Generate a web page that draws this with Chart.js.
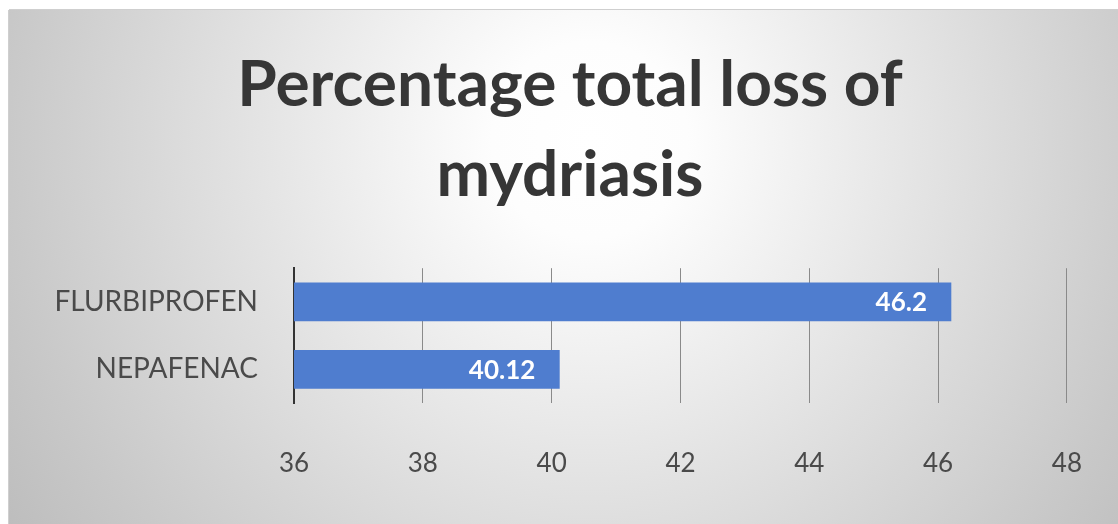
<!DOCTYPE html>
<html>
<head>
<meta charset="utf-8">
<script src="https://cdn.jsdelivr.net/npm/chart.js@4.4.1/dist/chart.umd.min.js"></script>
<style>
  html, body { margin: 0; padding: 0; background: #fff; }
  #wrap { width: 1118px; height: 524px; position: relative; }
</style>
</head>
<body>
<div id="wrap"><canvas id="myChart" width="1118" height="524"></canvas></div>
<script>
// data
var drugs = ['FLURBIPROFEN', 'NEPAFENAC'];
var lossPct = [46.2, 40.12];
var valueLabels = ['46.2', '40.12'];
var titleLines = ['Percentage total loss of', 'mydriasis'];
var xMin = 36, xMax = 48, xStep = 2;

// grey panel with a soft radial highlight behind the title
var panelBg = {
  id: 'panelBg',
  beforeDraw: function(chart) {
    var c = chart.ctx;
    c.save();
    c.fillStyle = '#ffffff';
    c.fillRect(0, 0, chart.width, chart.height);
    var g = c.createRadialGradient(590, 140, 0, 590, 140, 700);
    g.addColorStop(0, '#ffffff');
    g.addColorStop(0.14, '#fdfdfd');
    g.addColorStop(0.83, '#c9c9c9');
    g.addColorStop(1, '#bdbdbd');
    c.fillStyle = g;
    c.fillRect(9, 10, chart.width - 9, chart.height - 10);
    c.fillStyle = '#cfcfcf';
    c.fillRect(9, 9, chart.width - 9, 1);
    c.fillRect(8, 10, 1, chart.height - 10);
    c.restore();
  }
};

// white value labels just inside the end of each bar
var barLabels = {
  id: 'barLabels',
  afterDatasetsDraw: function(chart) {
    var c = chart.ctx;
    var meta = chart.getDatasetMeta(0);
    c.save();
    c.font = 'bold 26px Lato';
    c.fillStyle = '#ffffff';
    c.textAlign = 'right';
    c.textBaseline = 'middle';
    meta.data.forEach(function(bar, i) {
      c.fillText(valueLabels[i], bar.x - 24, bar.y + 1);
    });
    c.restore();
  }
};

var ctx = document.getElementById('myChart').getContext('2d');
var chart = new Chart(ctx, {
  type: 'bar',
  data: {
    labels: drugs,
    datasets: [{
      data: lossPct,
      backgroundColor: '#4f7dcf',
      borderWidth: 0,
      barThickness: 38
    }]
  },
  options: {
    indexAxis: 'y',
    responsive: false,
    animation: false,
    layout: { padding: { left: 50, right: 28, top: 0, bottom: 0 } },
    plugins: {
      legend: { display: false },
      tooltip: { enabled: false },
      title: {
        display: true,
        text: titleLines,
        color: '#363636',
        font: { family: 'Lato', size: 64, weight: 'bold', lineHeight: 1.4 },
        padding: { top: 41, bottom: 48 }
      }
    },
    scales: {
      x: {
        min: xMin,
        max: xMax,
        ticks: {
          stepSize: xStep,
          color: '#4a4a4a',
          font: { family: 'Lato', size: 26 },
          padding: 36
        },
        grid: { color: '#8a8a8a', lineWidth: 1, drawTicks: true, tickLength: 9, tickColor: 'rgba(0,0,0,0)' },
        border: { display: false },
        afterFit: function(s) { s.height = 121; }
      },
      y: {
        ticks: {
          color: '#4a4a4a',
          font: { family: 'Lato', size: 28 },
          padding: 36
        },
        grid: { display: false, drawTicks: false },
        border: { display: true, color: '#333333', width: 2 },
        afterFit: function(s) { s.width = 244; }
      }
    }
  },
  plugins: [panelBg, barLabels]
});
</script>
</body>
</html>
